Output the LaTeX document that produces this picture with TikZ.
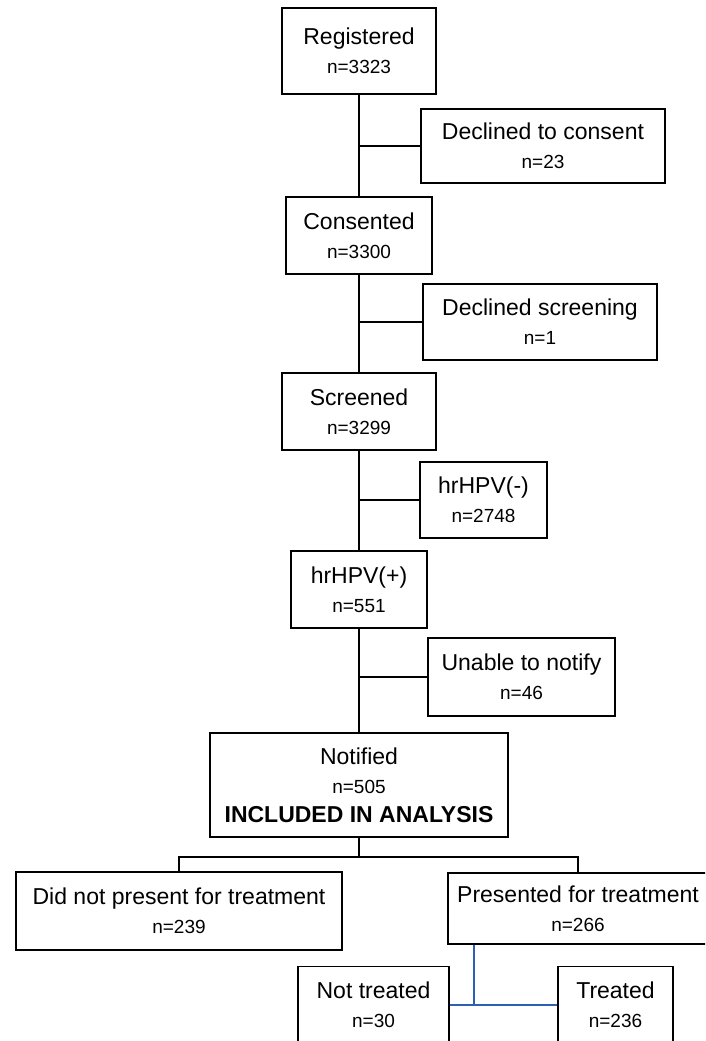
\documentclass[tikz,border=0pt]{standalone}
\usepackage{fontspec}
\setmainfont{Liberation Sans}
\usetikzlibrary{calc}
\definecolor{bleu}{RGB}{44,96,180}
\newcommand{\titre}[1]{{\fontsize{23}{29}\selectfont #1}}
\tikzset{
  boite/.style={draw, line width=1.6pt, inner sep=0pt, align=center,
    font=\fontsize{19}{29}\selectfont},
  lien/.style={line width=1.6pt},
  lienb/.style={line width=1.4pt, draw=bleu}
}

\begin{document}
\begin{tikzpicture}[x=1pt,y=-1pt]
  \useasboundingbox (0,0) rectangle (705,1041);
  \clip (0,0) rectangle (705,1041);
  %AXE PRINCIPAL
  \node[boite, minimum width=154, minimum height=86] (reg) at (359,51) {\titre{Registered}\\n=3323};
  \node[boite, minimum width=146, minimum height=77] (cons) at (359,235.5) {\titre{Consented}\\n=3300};
  \node[boite, minimum width=154, minimum height=77] (scr) at (359,411.5) {\titre{Screened}\\n=3299};
  \node[boite, minimum width=136, minimum height=77] (pos) at (359,589.5) {\titre{hrHPV(+)}\\n=551};
  \node[boite, minimum width=298, minimum height=104] (notif) at (359,785)
    {\titre{Notified}\\n=505\\\titre{\bfseries INCLUDED IN ANALYSIS}};
  %SORTIES
  \node[boite, minimum width=244, minimum height=74] (dcons) at (543,146) {\titre{Declined to consent}\\n=23};
  \node[boite, minimum width=234, minimum height=76] (dscr) at (540,322) {\titre{Declined screening}\\n=1};
  \node[boite, minimum width=127, minimum height=76] (neg) at (483.5,500) {\titre{hrHPV(-)}\\n=2748};
  \node[boite, minimum width=187, minimum height=78] (unab) at (521.5,677) {\titre{Unable to notify}\\n=46};
  %TRAITEMENT
  \node[boite, minimum width=326, minimum height=78] (nopres) at (179,911) {\titre{Did not present for treatment}\\n=239};
  \node[boite, minimum width=260, minimum height=71] (pres) at (578,908.5) {\titre{Presented for treatment}\\n=266};
  \node[boite, minimum width=151, minimum height=77] (nottr) at (373.5,1005) {\titre{Not treated}\\n=30};
  \node[boite, minimum width=115, minimum height=77] (treat) at (615.5,1005) {\titre{Treated}\\n=236};

  \draw[lien] (reg) -- (cons) -- (scr) -- (pos) -- (notif);
  \draw[lien] (dcons.west) -- (dcons.west -| reg.south);
  \draw[lien] (dscr.west) -- (dscr.west -| cons.south);
  \draw[lien] (neg.west) -- (neg.west -| scr.south);
  \draw[lien] (unab.west) -- (unab.west -| pos.south);
  %fourche
  \coordinate (fourche) at (359,857);
  \draw[lien] (notif) -- (fourche);
  \draw[lien] (nopres.north) |- (fourche) -| (pres.north);
  \coordinate (tsplit) at (474,1005);
  \draw[lienb] (pres.south -| tsplit) -- (tsplit);
  \draw[lienb] (nottr.east) -- (treat.west);
\end{tikzpicture}
\end{document}
